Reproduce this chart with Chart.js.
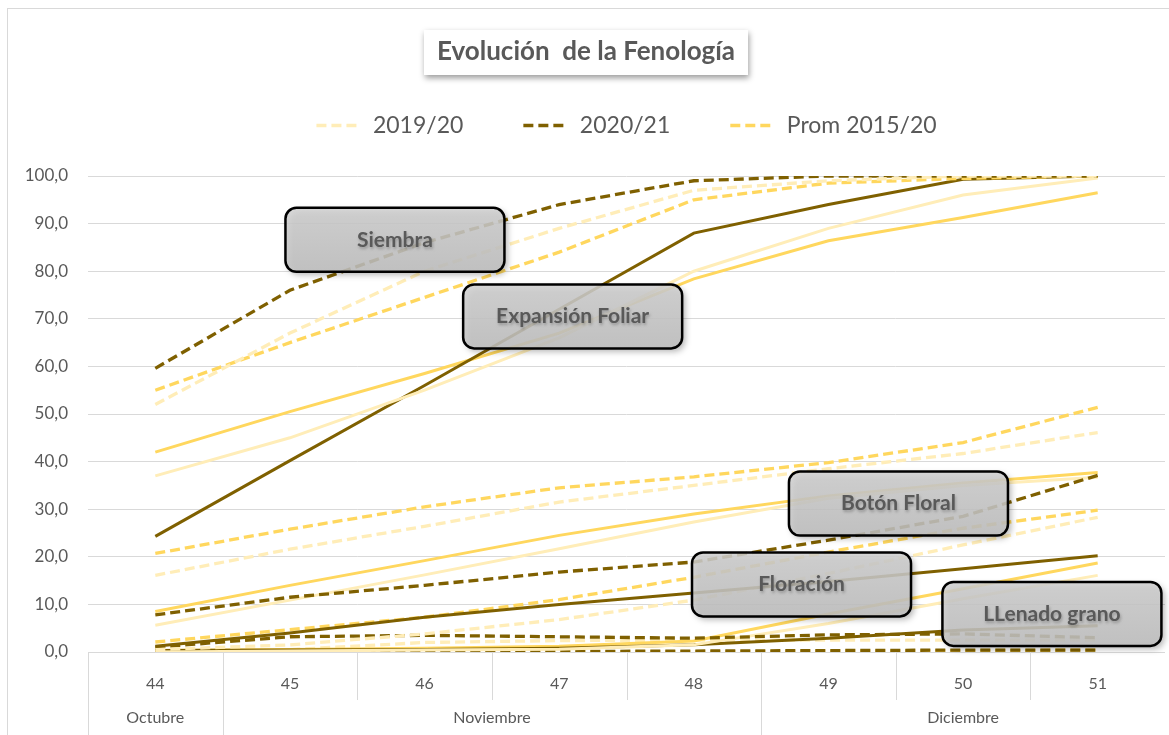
<!DOCTYPE html>
<html>
<head>
<meta charset="utf-8">
<script src="https://cdn.jsdelivr.net/npm/chart.js@4.4.0/dist/chart.umd.min.js"></script>
<style>
  html, body { margin: 0; padding: 0; background: #fff; }
</style>
</head>
<body>
<canvas id="fenologiaChart" width="1169" height="735"></canvas>
<script>
// semanas y meses del eje x
const weeks = ['44', '45', '46', '47', '48', '49', '50', '51'];
const months = ['Octubre', 'Noviembre', 'Diciembre'];
const monthWeeks = [1, 4, 3]; // cuantas semanas cae cada mes
const yTicks = [0, 10, 20, 30, 40, 50, 60, 70, 80, 90, 100];

// Siembra
const siembra1920 = [52, 67, 80, 89, 97, 99, 100, 100];
const siembra2021 = [59.6, 76, 86, 94, 99, 100, 100, 100];
const siembraProm = [55, 65, 74.5, 84, 95, 98.5, 99.5, 100];

// Expansion foliar
const expansion1920 = [37, 45, 55, 66, 80, 89, 96, 99.6];
const expansion2021 = [24.3, 40.2, 56, 72, 88, 94, 99.3, 100];
const expansionProm = [42, 50.5, 58.5, 67, 78.4, 86.4, 91.3, 96.5];

// Boton floral
const boton1920 = [16.1, 21.6, 26.4, 31.5, 35, 38.5, 41.7, 46.1];
const boton2021 = [7.8, 11.5, 14, 16.8, 18.9, 23.5, 28.5, 37.1];
const botonProm = [20.7, 25.8, 30.5, 34.5, 36.8, 39.8, 44, 51.4];

// Floracion
const floracion1920 = [5.6, 10.9, 16.2, 21.7, 27.3, 32.3, 35, 36.7];
const floracion2021 = [1.2, 4, 7.3, 10, 12.4, 14.8, 17.5, 20.2];
const floracionProm = [8.5, 14, 19.2, 24.5, 29, 32.8, 35.5, 37.7];

// Llenado grano
const llenado1920 = [0.5, 1.5, 3.8, 6.8, 10.9, 16.5, 22.5, 28.3];
const llenado2021 = [1.0, 3.2, 3.5, 3.2, 2.9, 3.6, 3.8, 3.0];
const llenadoProm = [2.1, 4.7, 7.3, 11, 15.7, 21, 26, 29.8];

// etapas finales (sin rotulo)
const etapa6_1920 = [0, 0.2, 0.4, 0.6, 1.5, 6, 11.2, 16.1];
const etapa6_2021 = [0.3, 0.4, 0.5, 0.8, 1.5, 2.9, 4.6, 5.5];
const etapa6Prom = [0.3, 0.5, 0.8, 1.2, 2.3, 8, 13.3, 18.7];
const etapa7_1920 = [0, 0.5, 2, 2.4, 2.5, 2.5, 2.5, 2.5];
const etapa7_2021 = [0, 0, 0, 0.1, 0.2, 0.3, 0.4, 0.4];
const etapa7Prom = [0, 0, 0, 0, 0, 0.2, 0.3, 0.4];

const COL_1920 = '#FFEDB8';
const COL_2021 = '#7F6000';
const COL_PROM = '#FFD75E';
const DASH = [10, 5];
const TEXT = '#595959';
const FONT = 'Lato, "Open Sans", sans-serif';

function serie(label, data, color, dashed) {
    return {
        label: label,
        data: data,
        borderColor: color,
        backgroundColor: color,
        borderWidth: dashed ? 3.3 : 3,
        borderDash: dashed ? DASH : [],
        pointRadius: 0,
        pointHoverRadius: 0,
        tension: 0,
        fill: false
    };
}

const datasets = [
    serie('2019/20', siembra1920, COL_1920, true),
    serie('2020/21', siembra2021, COL_2021, true),
    serie('Prom 2015/20', siembraProm, COL_PROM, true),
    serie('2019/20', expansion1920, COL_1920, false),
    serie('2020/21', expansion2021, COL_2021, false),
    serie('Prom 2015/20', expansionProm, COL_PROM, false),
    serie('2019/20', boton1920, COL_1920, true),
    serie('2020/21', boton2021, COL_2021, true),
    serie('Prom 2015/20', botonProm, COL_PROM, true),
    serie('2019/20', floracion1920, COL_1920, false),
    serie('2020/21', floracion2021, COL_2021, false),
    serie('Prom 2015/20', floracionProm, COL_PROM, false),
    serie('2019/20', llenado1920, COL_1920, true),
    serie('2020/21', llenado2021, COL_2021, true),
    serie('Prom 2015/20', llenadoProm, COL_PROM, true),
    serie('2019/20', etapa6_1920, COL_1920, false),
    serie('2020/21', etapa6_2021, COL_2021, false),
    serie('Prom 2015/20', etapa6Prom, COL_PROM, false),
    serie('2019/20', etapa7_1920, COL_1920, true),
    serie('2020/21', etapa7_2021, COL_2021, true),
    serie('Prom 2015/20', etapa7Prom, COL_PROM, true)
];

// rotulos de etapas: posicion en indice de semana / valor
const etapaLabels = [
    { text: 'Siembra', x: 1.78, y: 86.6 },
    { text: 'Expansión Foliar', x: 3.10, y: 70.5 },
    { text: 'Botón Floral', x: 5.52, y: 31.2 },
    { text: 'Floración', x: 4.80, y: 14.2 },
    { text: 'LLenado grano', x: 6.66, y: 8.0 }
];

// cajas, titulo, meses y separadores del eje
const extras = {
    id: 'extras',
    afterDatasetsDraw(chart) {
        const ctx = chart.ctx;
        const xs = chart.scales.x, ys = chart.scales.y;
        const step = (chart.chartArea.right - chart.chartArea.left) / weeks.length;
        etapaLabels.forEach(l => {
            const cx = xs.getPixelForValue(0) + l.x * step;
            const cy = ys.getPixelForValue(l.y);
            const w = 219, h = 64;
            ctx.save();
            ctx.shadowColor = 'rgba(0,0,0,0.35)';
            ctx.shadowBlur = 6;
            ctx.shadowOffsetX = 3;
            ctx.shadowOffsetY = 3;
            const g = ctx.createLinearGradient(0, cy - h / 2, 0, cy + h / 2);
            g.addColorStop(0, 'rgba(210,210,210,0.85)');
            g.addColorStop(1, 'rgba(194,194,194,0.85)');
            ctx.fillStyle = g;
            ctx.beginPath();
            ctx.roundRect(cx - w / 2, cy - h / 2, w, h, 11);
            ctx.fill();
            ctx.shadowColor = 'transparent';
            ctx.lineWidth = 2.5;
            ctx.strokeStyle = '#000';
            ctx.stroke();
            ctx.shadowColor = 'rgba(0,0,0,0.25)';
            ctx.shadowBlur = 3;
            ctx.shadowOffsetX = 1;
            ctx.shadowOffsetY = 2;
            ctx.fillStyle = TEXT;
            ctx.font = 'bold 21px ' + FONT;
            ctx.textAlign = 'center';
            ctx.textBaseline = 'middle';
            ctx.fillText(l.text, cx, cy);
            ctx.restore();
        });
    },
    afterDraw(chart) {
        const ctx = chart.ctx;
        const area = chart.chartArea;
        const step = (area.right - area.left) / weeks.length;
        ctx.save();
        // borde exterior
        ctx.strokeStyle = '#d9d9d9';
        ctx.lineWidth = 1;
        ctx.strokeRect(7.5, 8.5, 1300, 900);

        // separadores eje x
        const bottom = chart.height;
        const monthEdges = [0];
        monthWeeks.reduce((acc, n) => { monthEdges.push(acc + n); return acc + n; }, 0);
        for (let i = 0; i < weeks.length; i++) {
            const x = Math.round(area.left + i * step) + 0.5;
            const full = monthEdges.includes(i);
            ctx.beginPath();
            ctx.moveTo(x, area.bottom);
            ctx.lineTo(x, full ? bottom : area.bottom + 48);
            ctx.stroke();
        }
        // meses
        ctx.fillStyle = TEXT;
        ctx.font = '16px ' + FONT;
        ctx.textAlign = 'center';
        ctx.textBaseline = 'middle';
        months.forEach((m, i) => {
            const x0 = area.left + monthEdges[i] * step;
            const x1 = area.left + monthEdges[i + 1] * step;
            ctx.fillText(m, (x0 + x1) / 2, 718);
        });

        // titulo en caja blanca
        const title = 'Evolución  de la Fenología';
        ctx.font = 'bold 26px ' + FONT;
        const tw = ctx.measureText(title).width;
        const tx = 586, ty = 52;
        ctx.save();
        ctx.shadowColor = 'rgba(0,0,0,0.4)';
        ctx.shadowBlur = 6;
        ctx.shadowOffsetX = 1;
        ctx.shadowOffsetY = 3;
        ctx.fillStyle = '#fff';
        ctx.fillRect(tx - tw / 2 - 13, ty - 22, tw + 26, 45);
        ctx.restore();
        ctx.fillStyle = TEXT;
        ctx.font = 'bold 26px ' + FONT;
        ctx.textAlign = 'center';
        ctx.textBaseline = 'middle';
        ctx.fillText(title, tx, ty);
        ctx.restore();
    }
};

const ctx = document.getElementById('fenologiaChart').getContext('2d');
const fenologiaChart = new Chart(ctx, {
    type: 'line',
    data: {
        labels: weeks,
        datasets: datasets
    },
    options: {
        responsive: false,
        animation: false,
        layout: {
            padding: { top: 54, right: 4, left: 0, bottom: 0 }
        },
        plugins: {
            title: { display: false },
            subtitle: {
                // solo espacio entre leyenda y grafico
                display: true,
                text: '',
                weight: 500,
                font: { size: 10 },
                padding: { top: 17, bottom: 0 }
            },
            legend: {
                position: 'top',
                fullSize: false,
                labels: {
                    usePointStyle: true,
                    pointStyle: 'line',
                    pointStyleWidth: 45,
                    padding: 60,
                    color: TEXT,
                    font: { size: 23, family: FONT },
                    generateLabels: (chart) => {
                        const items = Chart.defaults.plugins.legend.labels.generateLabels(chart);
                        items.forEach(item => {
                            const ds = chart.data.datasets[item.datasetIndex];
                            item.lineDash = ds.borderDash;
                            item.lineWidth = 3.3;
                            item.strokeStyle = ds.borderColor;
                            item.fillStyle = ds.borderColor;
                        });
                        return items;
                    },
                    filter: (item) => item.datasetIndex < 3
                }
            },
            tooltip: { enabled: false }
        },
        scales: {
            x: {
                offset: true,
                grid: { display: false },
                border: { display: false },
                ticks: {
                    color: TEXT,
                    font: { size: 16, family: FONT },
                    padding: 14,
                    maxRotation: 0
                },
                afterFit: (scale) => { scale.height = 83; }
            },
            y: {
                min: 0,
                max: 100,
                afterBuildTicks: (scale) => { scale.ticks = yTicks.map(v => ({ value: v })); },
                grid: { color: '#d9d9d9', lineWidth: 1, drawTicks: false },
                border: { display: false },
                ticks: {
                    color: TEXT,
                    font: { size: 17, family: FONT },
                    padding: 20,
                    callback: (v) => v.toFixed(1).replace('.', ',')
                },
                afterFit: (scale) => { scale.width = 88; }
            }
        }
    },
    plugins: [extras]
});
</script>
</body>
</html>
